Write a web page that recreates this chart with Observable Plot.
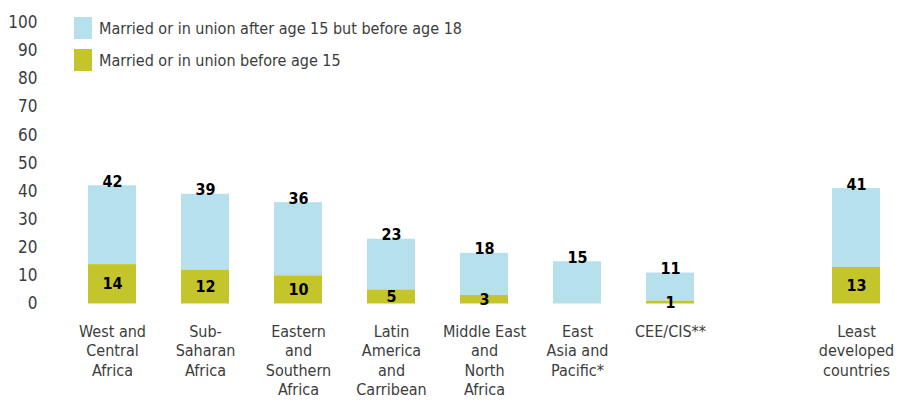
<!DOCTYPE html>
<html><head><meta charset="utf-8">
<script src="https://cdn.jsdelivr.net/npm/d3@7"></script>
<script src="https://cdn.jsdelivr.net/npm/@observablehq/plot@0.6"></script>
<style>
body{margin:0;background:#fff;}
#wrap{position:relative;width:901px;height:403px;overflow:hidden;}
#legend{position:absolute;left:74px;top:17px;}
#legend > div{padding-bottom:10px !important;}
#legend svg{margin-right:7px !important;}
</style></head><body><div id="wrap"></div>
<script>
const FONT = '"DejaVu Sans Condensed","Liberation Sans Narrow",sans-serif';

// ---- data ----
const categories = ["West and Central Africa","Sub-Saharan Africa","Eastern and Southern Africa","Latin America and Carribean","Middle East and North Africa","East Asia and Pacific*","CEE/CIS**","Least developed countries"];
const tickLabels = ["West and\nCentral\nAfrica","Sub-\nSaharan\nAfrica","Eastern\nand\nSouthern\nAfrica","Latin\nAmerica\nand\nCarribean","Middle East\nand\nNorth\nAfrica","East\nAsia and\nPacific*","CEE/CIS**","Least\ndeveloped\ncountries"];
const before15 = [14, 12, 10, 5, 3, 0, 1, 13];
const before18 = [42, 39, 36, 23, 18, 15, 11, 41];
const seriesNames = ["Married or in union after age 15 but before age 18","Married or in union before age 15"];
const seriesColors = ["#b7e0ed","#c4c52a"];
const yTicks = [0,10,20,30,40,50,60,70,80,90,100];

const data = categories.map((c, i) => ({category: c, b15: before15[i], b18: before18[i]}));
const labelOf = new Map(categories.map((c, i) => [c, tickLabels[i]]));
const GAP = " ";
const xDomain = [...categories.slice(0, 7), GAP, categories[7]];

const plot = Plot.plot({
  width: 901, height: 403,
  marginTop: 22, marginBottom: 99.5, marginLeft: 40, marginRight: 14,
  style: {fontFamily: FONT, fontSize: "16px", color: "#3c3c3c", background: "white"},
  x: {domain: xDomain, range: [87, 881.5], paddingInner: 0.485, paddingOuter: 0, axis: null},
  y: {domain: [0, 100], axis: null},
  marks: [
    Plot.barY(data, {x: "category", y1: "b15", y2: "b18", fill: seriesColors[0]}),
    Plot.barY(data, {x: "category", y1: 0, y2: "b15", fill: seriesColors[1]}),
    Plot.axisY({ticks: yTicks, tickSize: 0, tickPadding: 3, fontSize: 17, label: null, fill: "#3c3c3c"}),
    Plot.axisX({tickSize: 0, tickPadding: 19, lineHeight: 1.22, fontSize: 16, label: null,
      tickFormat: d => labelOf.get(d) ?? "", fill: "#3c3c3c"}),
    Plot.text(data, {x: "category", y: "b18", text: d => String(d.b18), lineAnchor: "bottom", dy: 1,
      fontWeight: "bold", fontSize: 16, fill: "#000"}),
    Plot.text(data.filter(d => d.b15 > 0), {x: "category", y: d => d.b15 / 2, text: d => String(d.b15),
      lineAnchor: "middle", fontWeight: "bold", fontSize: 16, fill: "#000"})
  ]
});

const legend = Plot.legend({
  color: {type: "ordinal", domain: seriesNames, range: seriesColors},
  legend: "swatches", columns: 1, swatchWidth: 18, swatchHeight: 22,
  style: {fontFamily: FONT, fontSize: "16px", color: "#3c3c3c"}
});
legend.id = "legend";

const wrap = document.getElementById("wrap");
wrap.appendChild(plot);
wrap.appendChild(legend);
</script>
</body></html>
